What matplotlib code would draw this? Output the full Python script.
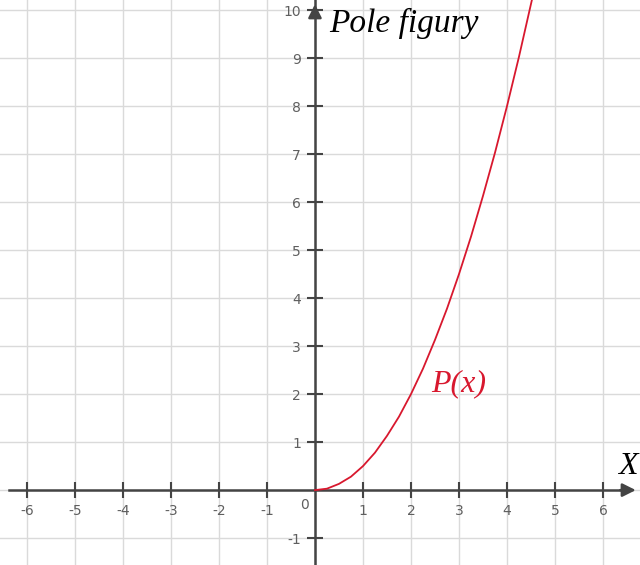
import matplotlib.pyplot as plt

plt.rcParams['axes.unicode_minus'] = False

px = [0, 0.25, 0.5, 0.75, 1, 1.25, 1.5, 1.75, 2, 2.25, 2.5, 2.75, 3, 3.25, 3.5, 3.75, 4, 4.25, 4.5, 4.55]
py = [0, 0.03, 0.13, 0.28, 0.5, 0.78, 1.13, 1.53, 2.0, 2.53, 3.13, 3.78, 4.5, 5.28, 6.13, 7.03, 8.0, 9.03, 10.13, 10.35]

xticks = [-6, -5, -4, -3, -2, -1, 1, 2, 3, 4, 5, 6]
yticks = [-1, 1, 2, 3, 4, 5, 6, 7, 8, 9, 10]

axis_col = "#444444"
red = "#d8182e"
lab_col = "#5f5f5f"

fig = plt.figure(figsize=(6.4, 5.65), dpi=100)
ax = fig.add_axes([0, 0, 1, 1])
ax.set_xlim(-6.56, 6.77)
ax.set_ylim(-1.56, 10.21)

# grid
for g in range(-6, 7):
    ax.axvline(g, color="#dadada", lw=1, zorder=0)
for g in range(-1, 11):
    ax.axhline(g, color="#dadada", lw=1, zorder=0)

for s in ["top", "right"]:
    ax.spines[s].set_visible(False)
ax.spines["left"].set_position("zero")
ax.spines["bottom"].set_position("zero")
ax.spines["bottom"].set_bounds(-6.37, 6.5)
ax.spines["left"].set_color(axis_col)
ax.spines["bottom"].set_color(axis_col)
ax.spines["left"].set_linewidth(1.8)
ax.spines["bottom"].set_linewidth(1.8)

ax.set_xticks(xticks)
ax.set_yticks(yticks)
ax.set_xticklabels([str(t) for t in xticks])
ax.set_yticklabels([str(t) for t in yticks])
ax.tick_params(direction="inout", length=12, width=1.5, color=axis_col,
               labelcolor=lab_col, labelsize=10, pad=4)
ax.text(-0.22, -0.3, "0", color=lab_col, fontsize=10, ha="center", va="center")

# arrows
ax.annotate("", xy=(6.74, 0), xytext=(6.3, 0),
            arrowprops=dict(arrowstyle="-|>", color=axis_col, lw=1.8, mutation_scale=20))
ax.annotate("", xy=(0, 10.18), xytext=(0, 9.8),
            arrowprops=dict(arrowstyle="-|>", color=axis_col, lw=1.8, mutation_scale=20))

ax.plot(px, py, color=red, lw=1.3, zorder=3)

serif = ["Liberation Serif", "DejaVu Serif"]
ax.text(0.3, 9.72, "Pole figury", family=serif, style="italic", fontsize=24,
        color="black", ha="left", va="center")
ax.text(6.52, 0.5, "X", family=serif, style="italic", fontsize=23,
        color="black", ha="center", va="center")
ax.text(2.42, 2.22, "P(x)", family=serif, style="italic", fontsize=23,
        color=red, ha="left", va="center")

fig.savefig("out.png", dpi=100)
